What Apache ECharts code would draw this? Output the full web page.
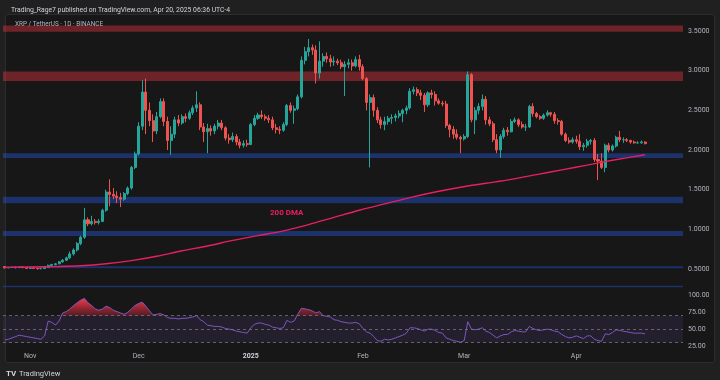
<!DOCTYPE html>
<html><head><meta charset="utf-8">
<script src="https://cdn.jsdelivr.net/npm/echarts/dist/echarts.min.js"></script>
<style>
html,body{margin:0;padding:0;background:#202020;}
#wrap{position:relative;width:720px;height:380px;overflow:hidden;}
#panel{position:absolute;left:5px;top:14px;width:708px;height:347px;background:#171717;border:1px solid #2c2c2c;border-radius:3px;}
#c{position:absolute;left:0;top:0;width:720px;height:380px;}
</style>
</head><body><div id="wrap"><div id="panel"></div><div id="c"></div></div>
<script>
// ---------- data ----------
const startDate = '2024-10-25';
const totalDays = 188; // visible category slots (incl. empty right margin)
// candles: [open, close, low, high]
const candlesOctNov = [
[0.530,0.515,0.505,0.535],[0.515,0.520,0.510,0.525],[0.520,0.522,0.515,0.528],[0.522,0.518,0.505,0.530],
[0.518,0.525,0.512,0.535],[0.525,0.518,0.510,0.530],[0.518,0.508,0.500,0.522],
[0.508,0.512,0.500,0.520],[0.512,0.508,0.500,0.515],[0.508,0.505,0.490,0.512],[0.505,0.505,0.495,0.515],
[0.505,0.520,0.500,0.525],[0.520,0.545,0.515,0.555],[0.545,0.555,0.535,0.565],[0.555,0.565,0.545,0.575],
[0.565,0.590,0.560,0.600],[0.590,0.610,0.580,0.625],[0.610,0.640,0.600,0.655],[0.640,0.690,0.625,0.720],
[0.690,0.740,0.670,0.760],[0.740,0.820,0.720,0.840],[0.820,0.900,0.800,0.920],[0.900,1.120,0.880,1.270],
[1.120,1.070,1.040,1.150],[1.070,1.100,1.050,1.170],[1.100,1.085,1.060,1.130],[1.085,1.100,1.060,1.130],
[1.100,1.240,1.090,1.260],[1.240,1.470,1.220,1.500],[1.470,1.440,1.290,1.630],[1.440,1.420,1.380,1.520],
[1.420,1.400,1.330,1.480],[1.400,1.380,1.280,1.460],[1.380,1.450,1.360,1.470],[1.450,1.520,1.430,1.540],
[1.520,1.780,1.500,1.800],[1.780,1.950,1.760,1.980]
];
const candlesDec = [
[1.950,2.300,1.930,2.350],[2.300,2.730,2.250,2.880],[2.730,2.500,2.200,2.900],[2.500,2.370,2.300,2.600],
[2.370,2.240,2.100,2.450],[2.240,2.420,2.200,2.480],[2.420,2.610,2.400,2.650],[2.610,2.360,2.300,2.650],
[2.360,2.120,2.000,2.420],[2.120,2.200,1.940,2.300],[2.200,2.380,2.150,2.420],[2.380,2.340,2.300,2.440],
[2.340,2.420,2.320,2.450],[2.420,2.400,2.350,2.460],[2.400,2.470,2.380,2.500],[2.470,2.530,2.440,2.560],
[2.530,2.570,2.480,2.740],[2.570,2.290,2.250,2.600],[2.290,2.230,2.100,2.340],[2.230,2.270,1.960,2.330],
[2.270,2.240,2.180,2.310],[2.240,2.300,2.200,2.330],[2.300,2.340,2.260,2.380],[2.340,2.280,2.250,2.380],
[2.280,2.150,2.120,2.300],[2.150,2.130,2.080,2.200],[2.130,2.170,2.100,2.220],[2.170,2.100,2.060,2.200],
[2.100,2.060,2.020,2.140],[2.060,2.080,2.030,2.120],[2.080,2.070,2.040,2.130]
];
const candlesJan = [
[2.070,2.320,2.060,2.340],[2.320,2.400,2.300,2.440],[2.400,2.440,2.380,2.470],[2.440,2.420,2.390,2.500],
[2.420,2.400,2.370,2.450],[2.400,2.380,2.340,2.440],[2.380,2.280,2.250,2.420],[2.280,2.260,2.210,2.330],
[2.260,2.250,2.200,2.300],[2.250,2.320,2.230,2.350],[2.320,2.560,2.300,2.580],[2.560,2.500,2.470,2.600],
[2.500,2.520,2.330,2.560],[2.520,2.670,2.500,2.700],[2.670,3.130,2.650,3.180],[3.130,3.240,3.080,3.300],
[3.240,3.290,3.180,3.400],[3.290,3.260,3.200,3.330],[3.260,2.970,2.840,3.320],[2.970,3.120,2.900,3.370],
[3.120,3.180,3.050,3.220],[3.180,3.150,3.100,3.230],[3.150,3.110,3.050,3.200],[3.110,3.120,3.060,3.180],
[3.120,3.100,3.070,3.150],[3.100,3.050,3.020,3.140],[3.050,3.080,2.680,3.120],[3.080,3.100,3.030,3.150],
[3.100,3.060,3.000,3.140],[3.060,3.140,3.040,3.180],[3.140,3.050,3.000,3.200]
];
const candlesFeb = [
[3.050,2.900,2.880,3.080],[2.900,2.600,2.500,2.920],[2.600,2.660,1.780,2.700],[2.660,2.500,2.420,2.700],
[2.500,2.380,2.340,2.540],[2.380,2.320,2.270,2.420],[2.320,2.360,2.250,2.420],[2.360,2.400,2.320,2.430],
[2.400,2.410,2.330,2.450],[2.410,2.430,2.360,2.460],[2.430,2.460,2.400,2.500],[2.460,2.500,2.350,2.520],
[2.500,2.530,2.450,2.560],[2.530,2.740,2.510,2.780],[2.740,2.760,2.700,2.800],[2.760,2.720,2.680,2.790],
[2.720,2.690,2.630,2.760],[2.690,2.570,2.480,2.720],[2.570,2.720,2.540,2.740],[2.720,2.700,2.650,2.760],
[2.700,2.620,2.560,2.740],[2.620,2.590,2.570,2.650],[2.590,2.580,2.550,2.620],[2.580,2.310,2.280,2.620],
[2.310,2.260,2.160,2.330],[2.260,2.200,2.140,2.300],[2.200,2.160,2.130,2.260],[2.160,2.140,1.960,2.180]
];
const candlesMar = [
[2.140,2.170,2.120,2.200],[2.170,2.950,2.150,2.990],[2.950,2.380,2.350,2.970],[2.380,2.500,2.200,2.540],
[2.500,2.550,2.450,2.590],[2.550,2.640,2.500,2.700],[2.640,2.380,2.320,2.680],[2.380,2.330,2.300,2.420],
[2.330,2.130,2.100,2.360],[2.130,2.000,1.960,2.200],[2.000,2.170,1.900,2.200],[2.170,2.250,2.140,2.280],
[2.250,2.230,2.180,2.290],[2.230,2.360,2.220,2.390],[2.360,2.380,2.340,2.410],[2.380,2.320,2.290,2.400],
[2.320,2.290,2.270,2.360],[2.290,2.290,2.240,2.330],[2.290,2.550,2.280,2.570],[2.550,2.460,2.420,2.590],
[2.460,2.420,2.400,2.480],[2.420,2.400,2.380,2.440],[2.400,2.440,2.380,2.460],[2.440,2.470,2.420,2.500],
[2.470,2.450,2.420,2.480],[2.450,2.370,2.330,2.480],[2.370,2.360,2.320,2.400],[2.360,2.200,2.180,2.380],
[2.200,2.120,2.100,2.220],[2.120,2.100,2.080,2.160],[2.100,2.130,2.080,2.160]
];
const candlesApr = [
[2.130,2.110,2.080,2.180],[2.110,2.040,2.000,2.200],[2.040,2.060,1.990,2.090],[2.060,2.110,2.030,2.140],
[2.110,2.120,2.070,2.140],[2.120,1.880,1.850,2.150],[1.880,1.860,1.620,1.950],[1.860,1.780,1.760,1.960],
[1.780,2.060,1.720,2.080],[2.060,2.000,1.970,2.090],[2.000,2.050,1.980,2.070],[2.050,2.160,2.030,2.180],
[2.160,2.130,2.100,2.240],[2.130,2.130,2.090,2.160],[2.130,2.120,2.100,2.150],[2.120,2.100,2.080,2.130],
[2.100,2.090,2.080,2.120],[2.090,2.090,2.080,2.110],[2.090,2.100,2.080,2.120],[2.100,2.080,2.070,2.110]
];
// 200-day moving average (read at weekly points)
const dmaDates = ['2024-10-25','2024-11-01','2024-11-08','2024-11-15','2024-11-22','2024-11-29','2024-12-06',
'2024-12-13','2024-12-20','2024-12-27','2025-01-03','2025-01-10','2025-01-17','2025-01-24','2025-01-31',
'2025-02-07','2025-02-14','2025-02-21','2025-02-28','2025-03-07','2025-03-14','2025-03-21','2025-03-28',
'2025-04-04','2025-04-11','2025-04-20'];
const dmaValues = [0.520,0.525,0.530,0.540,0.565,0.605,0.660,0.730,0.790,0.860,0.920,0.980,1.060,1.150,1.240,
1.320,1.400,1.470,1.530,1.580,1.630,1.690,1.750,1.810,1.870,1.940];
// RSI(14)
const rsiOctNov = [34,35,37,39,41,40,39, 38,37,36,35,40,62,60,56,62,74,76,80,85,89,93,95.5,89,85,80,78,80,84,82,78,76,74,72,75,80,85];
const rsiDec = [88,90,84,77,71,72,73,71,67,66,66,65,66,66,67,68,70,64,61,56,55,54,54,53,51,50,49,47,46,45,44];
const rsiJan = [52,57,59,59,57,56,53,52,51,52,63,60,62,72,81,80,79,77,74,76,70,69,68,64,63,61,60,59,59,60,58];
const rsiFeb = [51,46,44,39,33,32,35,34,35,37,39,41,44,52,52,51,49,47,50,50,48,45,44,37,35,33,32,30.5];
const rsiMar = [33,61,50,49,50,52,47,45,41,37,40,42,42,46,48,47,46,46,54,51,49,48,49,50,49,47,46,42,39,37,38];
const rsiApr = [40,38,36,40,40,35,33,32,43,42,45,49,48,47,46,45,44,44,44,43];
// horizontal zones [low, high]
const resistanceZones = [[3.49,3.57],[2.87,2.99]];
const supportZones = [[1.90,1.96],[1.33,1.41],[0.915,0.98],[0.51,0.535],[0.27,0.29]];
const priceTicks = [0.5,1.0,1.5,2.0,2.5,3.0,3.5];
const rsiLevels = [70,50,30];
const monthNames = {'01':'2025','02':'Feb','03':'Mar','04':'Apr','11':'Nov','12':'Dec','10':'Oct'};

// ---------- build ----------
const dates = [];
(function(){ const s = Date.parse(startDate+'T00:00:00Z'); for (let i=0;i<totalDays;i++){ dates.push(new Date(s+i*86400000).toISOString().slice(0,10)); } })();
const candles = [].concat(candlesOctNov,candlesDec,candlesJan,candlesFeb,candlesMar,candlesApr);
const rsi = [].concat(rsiOctNov,rsiDec,rsiJan,rsiFeb,rsiMar,rsiApr);
const candleData = dates.map((d,i)=> i<candles.length ? candles[i] : '-');
const rsiData = dates.map((d,i)=> i<rsi.length ? rsi[i] : '-');
const obBase = rsiData.map(v => v==='-' ? '-' : 70);
const obTop = rsiData.map(v => v==='-' ? '-' : Math.max(v-70,0));
const dmaData = dmaDates.map((d,i)=>[d, dmaValues[i]]);

const FONT = 'Roboto, "Noto Sans", sans-serif';
const UP = '#26a69a', DOWN = '#ef5350';

const zoneAreas = resistanceZones.map(z=>[{yAxis:z[0], itemStyle:{color:'rgba(242,54,69,0.40)'}},{yAxis:z[1]}])
  .concat(supportZones.map(z=>[{yAxis:z[0], itemStyle:{color:'rgba(41,98,255,0.36)'}},{yAxis:z[1]}]));

const chart = echarts.init(document.getElementById('c'), null, {renderer:'canvas'});
chart.setOption({
  backgroundColor: 'transparent',
  animation: false,
  textStyle: {fontFamily: FONT},
  title: [
    {text:'Trading_Rage7 published on TradingView.com, Apr 20, 2025 06:36 UTC-4', left:6, top:2,
     textStyle:{fontSize:6.8, color:'#d1d4dc', fontWeight:'normal', fontFamily:FONT}},
    {text:'XRP / TetherUS · 1D · BINANCE', left:10, top:16.5,
     textStyle:{fontSize:6.4, color:'#b2b5be', fontWeight:'normal', fontFamily:FONT}}
  ],
  grid: [
    {left:3, width:680, top:11.2, height:277.6},
    {left:3, width:680, top:295.4, height:50.6}
  ],
  xAxis: [
    {type:'category', data:dates, gridIndex:0, boundaryGap:true, show:false},
    {type:'category', data:dates, gridIndex:1, boundaryGap:true,
     axisLine:{show:false}, axisTick:{show:false}, splitLine:{show:false},
     axisLabel:{interval:(i,v)=>v.slice(8)==='01', color:'#b2b5be', fontSize:7, margin:7, fontFamily:FONT,
       formatter:v=>{const m=v.slice(5,7); return m==='01' ? '{b|2025}' : monthNames[m];},
       rich:{b:{fontWeight:'bold', color:'#d1d4dc', fontSize:7, fontFamily:FONT}}}}
  ],
  yAxis: [
    {type:'value', gridIndex:0, position:'right', min:0.25, max:3.75, interval:0.25, scale:false,
     axisLine:{show:false}, axisTick:{show:false}, splitLine:{show:false},
     axisLabel:{color:'#b2b5be', fontSize:7, margin:5, fontFamily:FONT,
       formatter:v=> priceTicks.some(t=>Math.abs(t-v)<1e-6) ? v.toFixed(4) : ''}},
    {type:'value', gridIndex:1, position:'right', min:25, max:100, interval:25,
     axisLine:{show:false}, axisTick:{show:false}, splitLine:{show:false},
     axisLabel:{color:'#b2b5be', fontSize:7, margin:5, fontFamily:FONT, formatter:v=>v.toFixed(2)}}
  ],
  series: [
    {type:'line', name:'zones', xAxisIndex:0, yAxisIndex:0, data:dates.map(()=> '-'), z:1, silent:true,
     markArea:{silent:true, data:zoneAreas}},
    {type:'candlestick', name:'XRPUSDT', xAxisIndex:0, yAxisIndex:0, data:candleData, z:3, barWidth:'70%',
     itemStyle:{color:UP, color0:DOWN, borderColor:UP, borderColor0:DOWN, borderWidth:1}},
    {type:'line', name:'200 DMA', xAxisIndex:0, yAxisIndex:0, data:dmaData, z:4, symbol:'none', smooth:0.3,
     lineStyle:{color:'#e91e63', width:1.4}},
    {type:'line', name:'ob-base', xAxisIndex:1, yAxisIndex:1, data:obBase, stack:'ob', symbol:'none',
     lineStyle:{opacity:0}, z:2, silent:true},
    {type:'line', name:'ob-fill', xAxisIndex:1, yAxisIndex:1, data:obTop, stack:'ob', symbol:'none',
     lineStyle:{opacity:0}, z:2, silent:true,
     areaStyle:{opacity:1, color:new echarts.graphic.LinearGradient(0,0,0,1,[{offset:0,color:'rgba(245,60,75,1)'},{offset:1,color:'rgba(200,40,60,0.35)'}])}},
    {type:'line', name:'RSI', xAxisIndex:1, yAxisIndex:1, data:rsiData, symbol:'none', z:3,
     lineStyle:{color:'#7e57c2', width:1},
     markArea:{silent:true, itemStyle:{color:'rgba(126,87,194,0.12)'}, data:[[{yAxis:30},{yAxis:70}]]},
     markLine:{silent:true, symbol:'none', label:{show:false},
       lineStyle:{color:'rgba(120,123,134,0.75)', type:[3,3], width:1},
       data:rsiLevels.map(l=>({yAxis:l}))}}
  ],
  graphic: [
    {type:'text', left:270, top:209, style:{text:'200 DMA', fill:'#e91e63', font:'bold 8px '+FONT}},
    {type:'text', left:6, top:370, style:{text:'TV', fill:'#d1d4dc', font:'bold 8px '+FONT}},
    {type:'text', left:19, top:370, style:{text:'TradingView', fill:'#d1d4dc', font:'7.5px '+FONT}}
  ]
});
</script>
</body></html>
